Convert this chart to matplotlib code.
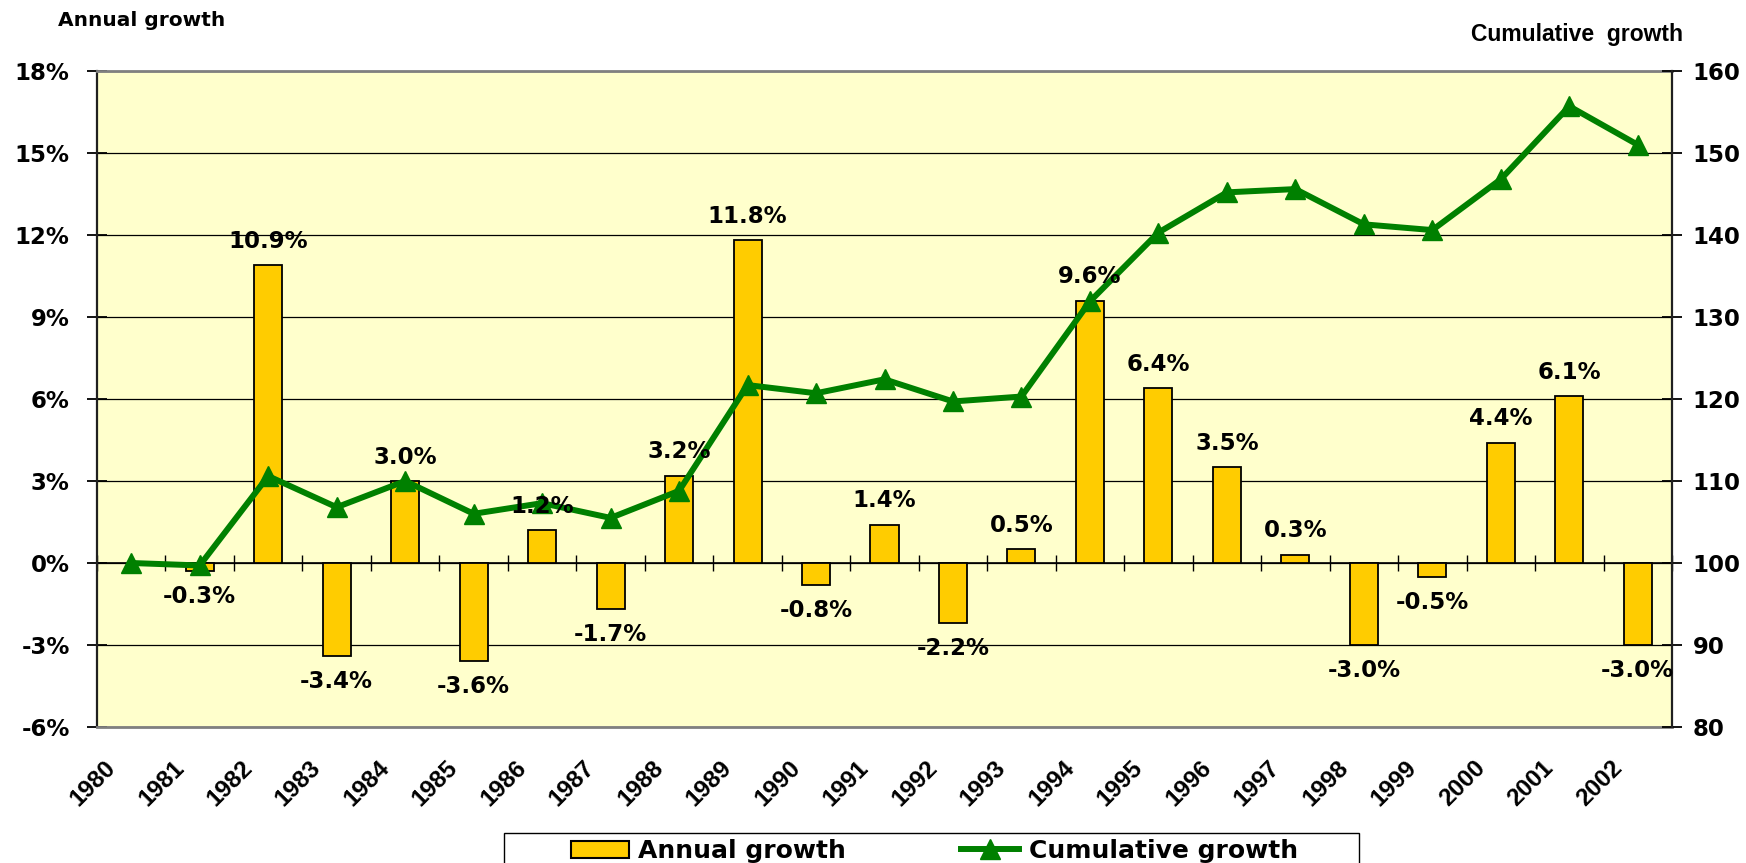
import numpy as np
import matplotlib
matplotlib.use('Agg')
import matplotlib.pyplot as plt
from matplotlib.patches import Patch, Rectangle
from matplotlib.lines import Line2D
from matplotlib.ticker import FuncFormatter

plt.rcParams['font.family'] = ['DejaVu Sans']
plt.rcParams['font.weight'] = 'bold'

years = [str(y) for y in range(1980, 2003)]
annual = [np.nan, -0.3, 10.9, -3.4, 3.0, -3.6, 1.2, -1.7, 3.2, 11.8, -0.8, 1.4,
          -2.2, 0.5, 9.6, 6.4, 3.5, 0.3, -3.0, -0.5, 4.4, 6.1, -3.0]
cumulative = [100, 99.7, 110.6, 106.8, 110.0, 106.0, 107.3, 105.5, 108.8, 121.7,
              120.7, 122.4, 119.7, 120.3, 131.9, 140.3, 145.2, 145.6, 141.3,
              140.6, 146.8, 155.7, 151.0]
left_ticks = [-6, -3, 0, 3, 6, 9, 12, 15, 18]
right_ticks = [80, 90, 100, 110, 120, 130, 140, 150, 160]

W, H = 1746, 863
fig = plt.figure(figsize=(W / 100, H / 100), dpi=100)
ax = fig.add_axes([97 / W, 1 - 727 / H, (1672 - 97) / W, (727 - 71) / H])
ax.set_facecolor('#FFFFCC')

x = np.arange(len(years))
ax.bar(x, annual, width=0.41, color='#FFCC00', edgecolor='black', linewidth=1.3, zorder=3)
ax.set_xlim(-0.5, len(years) - 0.5)
ax.set_ylim(left_ticks[0], left_ticks[-1])
ax.set_yticks(left_ticks)
ax.yaxis.set_major_formatter(FuncFormatter(lambda v, p: f"{v:.0f}%"))
ax.yaxis.grid(True, color='black', linewidth=0.9)
ax.set_axisbelow(True)
ax.tick_params(axis='y', direction='inout', length=14.4, width=1.3, pad=12.5, labelsize=16.5)

ax.set_xticks(x - 0.4)
ax.set_xticklabels(years)
ax.tick_params(axis='x', length=0, pad=21, labelsize=17.5)
for lab in ax.get_xticklabels():
    lab.set_rotation(45)
    lab.set_ha('right')
    lab.set_va('top')
    lab.set_rotation_mode('anchor')
    lab.set_fontfamily('Liberation Sans')
    lab.set_fontweight('bold')

for s in ['top', 'bottom']:
    ax.spines[s].set_color('#808080')
    ax.spines[s].set_linewidth(2)
ax.spines['left'].set_color('#202020')
ax.spines['left'].set_linewidth(1.6)
ax.spines['right'].set_visible(False)

# category axis crossing at 0%
zero_loc = (0 - left_ticks[0]) / (left_ticks[-1] - left_ticks[0])
sec = ax.secondary_xaxis(zero_loc)
sec.set_xticks(np.arange(len(years) + 1) - 0.5)
sec.tick_params(direction='inout', length=11, width=1, labelbottom=False)
sec.spines['bottom'].set_color('black')
sec.spines['bottom'].set_linewidth(1.2)

ax2 = ax.twinx()
ax2.plot(x, cumulative, color='#008000', linewidth=4.3, marker='^', markersize=14, zorder=5)
ax2.set_ylim(right_ticks[0], right_ticks[-1])
ax2.set_yticks(right_ticks)
ax2.tick_params(axis='y', direction='inout', length=14.4, width=1.3, pad=7.8, labelsize=16.5)
for s in ['top', 'bottom', 'left']:
    ax2.spines[s].set_visible(False)
ax2.spines['right'].set_color('#202020')
ax2.spines['right'].set_linewidth(1.6)

for xi, v in zip(x, annual):
    if np.isnan(v):
        continue
    pos = v >= 0
    ax2.annotate(f"{v:.1f}%", xy=(xi, v), xycoords=ax.transData,
                 xytext=(0, 9 if pos else -10), textcoords='offset points',
                 ha='center', va='bottom' if pos else 'top', fontsize=16.5,
                 fontweight='bold', zorder=6)

fig.text(58 / W, 1 - 21 / H, 'Annual growth', fontsize=14.5, fontweight='bold',
         ha='left', va='center')
fig.text(1683 / W, 1 - 34 / H, 'Cumulative  growth', fontsize=16.5, fontweight='bold',
         fontfamily='Liberation Sans', ha='right', va='center')

fig.add_artist(Rectangle((504 / W, -0.05), 855 / W, 0.05 + 1 - 833 / H,
                         transform=fig.transFigure, fill=False, edgecolor='black',
                         linewidth=1.0))
handles = [Patch(facecolor='#FFCC00', edgecolor='black', linewidth=1.5, label='Annual growth'),
           Line2D([], [], color='#008000', linewidth=4.3, marker='^', markersize=14,
                  label='Cumulative growth')]
fig.legend(handles=handles, loc='upper left', bbox_to_anchor=(566 / W, 1 - 834 / H),
           ncol=2, frameon=False, borderpad=0.2, borderaxespad=0,
           prop={'size': 18, 'weight': 'bold'}, handlelength=2.3,
           handletextpad=0.4, columnspacing=4.6)

fig.savefig('out.png', dpi=100)
